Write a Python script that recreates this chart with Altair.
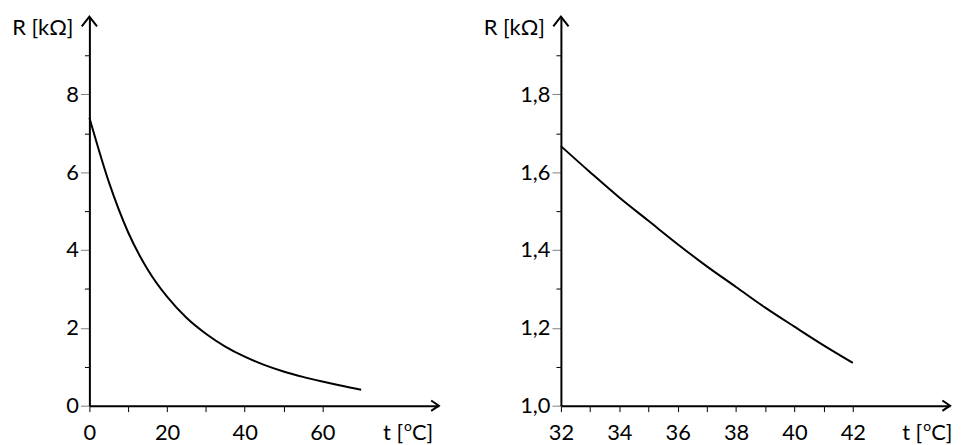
import altair as alt
import pandas as pd

# ---- data ----
t_left = [0, 5, 10, 15, 20, 25, 30, 35, 40, 45, 50, 55, 60, 65, 70]
r_left = [7.4, 5.75, 4.45, 3.5, 2.8, 2.26, 1.85, 1.52, 1.26, 1.05, 0.88, 0.74, 0.62, 0.51, 0.41]

t_right = [32, 33, 34, 35, 36, 37, 38, 39, 40, 41, 42]
r_right = [1.667, 1.60, 1.535, 1.475, 1.415, 1.358, 1.305, 1.252, 1.203, 1.155, 1.11]

left_xticks = [0, 10, 20, 30, 40, 50, 60]
left_yticks = [0, 1, 2, 3, 4, 5, 6, 7, 8, 9]
right_xticks = [32, 33, 34, 35, 36, 37, 38, 39, 40, 41, 42]
right_yticks = [1.0, 1.1, 1.2, 1.3, 1.4, 1.5, 1.6, 1.7, 1.8, 1.9]

y_title = "R [kΩ]"
x_title_a = "t ["
x_title_sup = "o"
x_title_b = "C]"

FONT = "Lato"
FS = 22
H = 392


def panel(t, r, xdom, ydom, xticks, yticks, xlab, ylab, ymajor, W, xt_x):
    df = pd.DataFrame({"t": t, "R": r})
    one = pd.DataFrame({"k": [0]})
    line = alt.Chart(df).mark_line(
        color="black", strokeWidth=2, interpolate="monotone"
    ).encode(
        x=alt.X(
            "t:Q",
            scale=alt.Scale(domain=xdom, nice=False, zero=False),
            axis=alt.Axis(
                title=None, values=xticks, labelExpr=xlab, labelFlush=False,
                labelOverlap=False, tickSize=6, tickColor="black", tickWidth=1,
                labelPadding=11, grid=False,
            ),
        ),
        y=alt.Y(
            "R:Q",
            scale=alt.Scale(domain=ydom, nice=False, zero=False),
            axis=alt.Axis(
                title=None, values=yticks, labelExpr=ylab, labelFlush=False,
                labelOverlap=False,
                tickSize={"condition": {"test": ymajor, "value": 9}, "value": 5},
                tickColor={"condition": {"test": ymajor, "value": "#808080"}, "value": "black"},
                tickWidth=1, labelPadding=2, grid=False,
            ),
        ),
    )
    xarrow = alt.Chart(one).mark_point(
        shape="M-1.1,-0.75L0,0L-1.1,0.75", filled=False, stroke="black",
        strokeWidth=2, size=196, opacity=1,
    ).encode(x=alt.value(W), y=alt.value(H))
    yarrow = alt.Chart(one).mark_point(
        shape="M-1.1,1.4L0,0L1.1,1.4", filled=False, stroke="black",
        strokeWidth=2, size=196, opacity=1,
    ).encode(x=alt.value(0), y=alt.value(0))
    ytxt = alt.Chart(one).mark_text(
        align="right", baseline="middle", font=FONT, fontSize=FS, color="black"
    ).encode(x=alt.value(-16), y=alt.value(12), text=alt.value(y_title))
    xtxt_a = alt.Chart(one).mark_text(
        align="right", baseline="middle", font=FONT, fontSize=FS, color="black"
    ).encode(x=alt.value(xt_x + 24), y=alt.value(H + 28), text=alt.value(x_title_a))
    xtxt_o = alt.Chart(one).mark_text(
        align="left", baseline="middle", font=FONT, fontSize=14, color="black"
    ).encode(x=alt.value(xt_x + 25), y=alt.value(H + 22), text=alt.value(x_title_sup))
    xtxt_b = alt.Chart(one).mark_text(
        align="left", baseline="middle", font=FONT, fontSize=FS, color="black"
    ).encode(x=alt.value(xt_x + 33), y=alt.value(H + 28), text=alt.value(x_title_b))
    return alt.layer(line, xarrow, yarrow, ytxt, xtxt_a, xtxt_o, xtxt_b).properties(
        width=W, height=H
    )


left = panel(
    t_left, r_left, [0, 90], [0, 10], left_xticks, left_yticks,
    "datum.value % 20 == 0 ? datum.value : ''",
    "datum.value % 2 == 0 ? datum.value : ''",
    "datum.value % 2 == 0",
    352, 292,
)
right = panel(
    t_right, r_right, [32, 45.33], [1.0, 2.0], right_xticks, right_yticks,
    "datum.value % 2 == 0 ? datum.value : ''",
    "round(datum.value * 10) % 2 == 0 ? replace(format(datum.value, '.1f'), '.', ',') : ''",
    "round(datum.value * 10) % 2 == 0",
    392, 340,
)

chart = alt.hconcat(left, right, spacing=41).configure_view(stroke=None).configure_axis(
    labelFont=FONT, labelFontSize=FS, labelColor="black",
    domainColor="black", domainWidth=2,
).properties(padding={"left": 4, "top": 3, "right": 0, "bottom": 0})

chart.save("out.html", embed_options={"renderer": "svg", "actions": False})
